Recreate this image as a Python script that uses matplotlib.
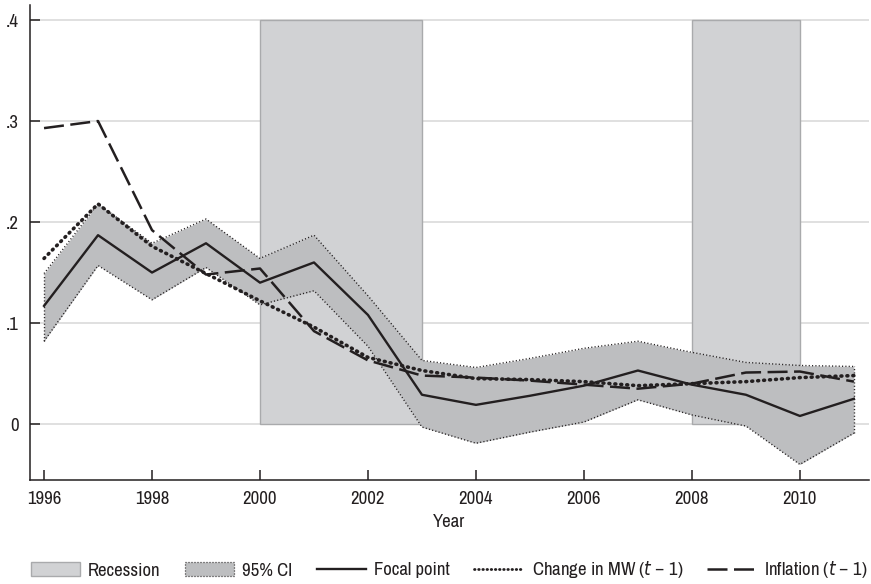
import numpy as np
import matplotlib
matplotlib.use("Agg")
import matplotlib.pyplot as plt
import matplotlib.patches as mpatches
from matplotlib.lines import Line2D
from matplotlib import font_manager as fm

# narrow sans if one is installed, otherwise plain Liberation Sans
def pick_font():
    narrow = [f for f in fm.fontManager.ttflist
              if f.style == "normal" and f.weight in (400, "normal", "regular")
              and ("Condensed" in f.name or "Narrow" in f.name
                   or str(f.stretch) in ("condensed", "semi-condensed",
                                         "extra-condensed"))]
    if narrow:
        f = sorted(narrow, key=lambda e: e.name)[0]
        return f.name, f.stretch, 13.5
    return "Liberation Sans", "normal", 12

FONT, STRETCH, FS = pick_font()
plt.rcParams['font.family'] = [FONT, 'DejaVu Sans']
plt.rcParams['font.stretch'] = STRETCH

# ── Data ──────────────────────────────────────────────────────────────────────
years = np.arange(1996, 2012)
focal = [0.117, 0.187, 0.150, 0.179, 0.140, 0.160, 0.108, 0.029,
         0.019, 0.028, 0.038, 0.053, 0.039, 0.029, 0.008, 0.025]
ci_upper = [0.149, 0.218, 0.179, 0.203, 0.164, 0.187, 0.127, 0.063,
            0.056, 0.065, 0.075, 0.082, 0.071, 0.061, 0.058, 0.057]
ci_lower = [0.082, 0.157, 0.123, 0.155, 0.118, 0.132, 0.077, -0.003,
            -0.019, -0.008, 0.002, 0.024, 0.009, -0.002, -0.040, -0.009]
mw_change = [0.164, 0.218, 0.176, 0.149, 0.122, 0.096, 0.066, 0.053,
             0.045, 0.044, 0.042, 0.038, 0.040, 0.042, 0.046, 0.048]
inflation = [0.293, 0.300, 0.192, 0.148, 0.154, 0.092, 0.063, 0.048,
             0.046, 0.043, 0.039, 0.035, 0.040, 0.051, 0.052, 0.042]
recessions = [(2000, 2003), (2008, 2010)]
recession_top = 0.4

yticks = [0, 0.1, 0.2, 0.3, 0.4]
ytick_labels = ["0", ".1", ".2", ".3", ".4"]
xticks = [1996, 1998, 2000, 2002, 2004, 2006, 2008, 2010]

# ── Styles ────────────────────────────────────────────────────────────────────
INK = "#231f20"
REC_FACE = "#d1d2d4"
REC_EDGE = "#a9aaac"
CI_FACE = "#bdbec0"
GRID = "#dddddd"
MW_STYLE = dict(color=INK, lw=2.6, linestyle=(0, (0.25, 1.4)),
                dash_capstyle="round")
INFL_STYLE = dict(color=INK, lw=1.8, linestyle=(0, (8, 2.6)))
CI_EDGE = dict(color=INK, lw=1.0, linestyle=(0, (0.8, 1.6)))

fig = plt.figure(figsize=(8.71, 5.84), dpi=100)
ax = fig.add_axes([30 / 871, 104 / 584, 839 / 871, 475 / 584])

ax.set_xlim(1995.74, 2011.28)
ax.set_ylim(-0.0554, 0.4149)

# grid lines sit underneath the recession bands
for y in yticks:
    ax.axhline(y, color=GRID, lw=1.3, zorder=0)

for start, end in recessions:
    ax.add_patch(mpatches.Rectangle((start, 0), end - start, recession_top,
                                    facecolor=REC_FACE, edgecolor=REC_EDGE,
                                    lw=1.0, zorder=1))

ax.fill_between(years, ci_lower, ci_upper, color=CI_FACE, lw=0, zorder=2)
ax.plot(years, ci_upper, **CI_EDGE, zorder=3)
ax.plot(years, ci_lower, **CI_EDGE, zorder=3)
ax.plot([years[0], years[0]], [ci_lower[0], ci_upper[0]], **CI_EDGE, zorder=3)
ax.plot([years[-1], years[-1]], [ci_lower[-1], ci_upper[-1]], **CI_EDGE, zorder=3)

ax.plot(years, focal, color=INK, lw=1.7, zorder=5)
ax.plot(years, mw_change, **MW_STYLE, zorder=4)
ax.plot(years, inflation, **INFL_STYLE, zorder=4)

# ── Axes cosmetics ────────────────────────────────────────────────────────────
for side in ("top", "right"):
    ax.spines[side].set_visible(False)
for side in ("left", "bottom"):
    ax.spines[side].set_color(INK)
    ax.spines[side].set_linewidth(1.1)

ax.set_yticks(yticks)
ax.set_yticklabels(ytick_labels)
ax.set_xticks(xticks)
ax.set_xticklabels([str(x) for x in xticks])
ax.tick_params(axis="both", direction="in", length=7, width=1.1,
               color=INK, labelcolor=INK, labelsize=FS)
ax.tick_params(axis="y", pad=8)
ax.tick_params(axis="x", pad=8)

ax.set_xlabel("Year", fontsize=FS, color=INK, labelpad=5)

# ── Legend ────────────────────────────────────────────────────────────────────
handles = [
    mpatches.Patch(facecolor=REC_FACE, edgecolor=REC_EDGE, lw=1.0,
                   label="Recession"),
    mpatches.Patch(facecolor=CI_FACE, edgecolor=INK, lw=0.9,
                   linestyle=(0, (0.8, 1.6)), label="95% CI"),
    Line2D([], [], color=INK, lw=1.7, label="Focal point"),
    Line2D([], [], color=INK, lw=2.0, linestyle=(0, (0.2, 1.3)),
           dash_capstyle="round", label="Change in MW ($t$ – 1)"),
    Line2D([], [], color=INK, lw=1.8, linestyle=(0, (8, 2.6)),
           label="Inflation ($t$ – 1)"),
]
leg = fig.legend(handles=handles, loc="center", ncol=5,
                 bbox_to_anchor=(449.5 / 871, 1 - 570 / 584), frameon=False,
                 fontsize=FS, handlelength=2.6, handleheight=0.75,
                 handletextpad=0.45, columnspacing=1.3, labelcolor=INK)

fig.savefig("out.png", dpi=100)
